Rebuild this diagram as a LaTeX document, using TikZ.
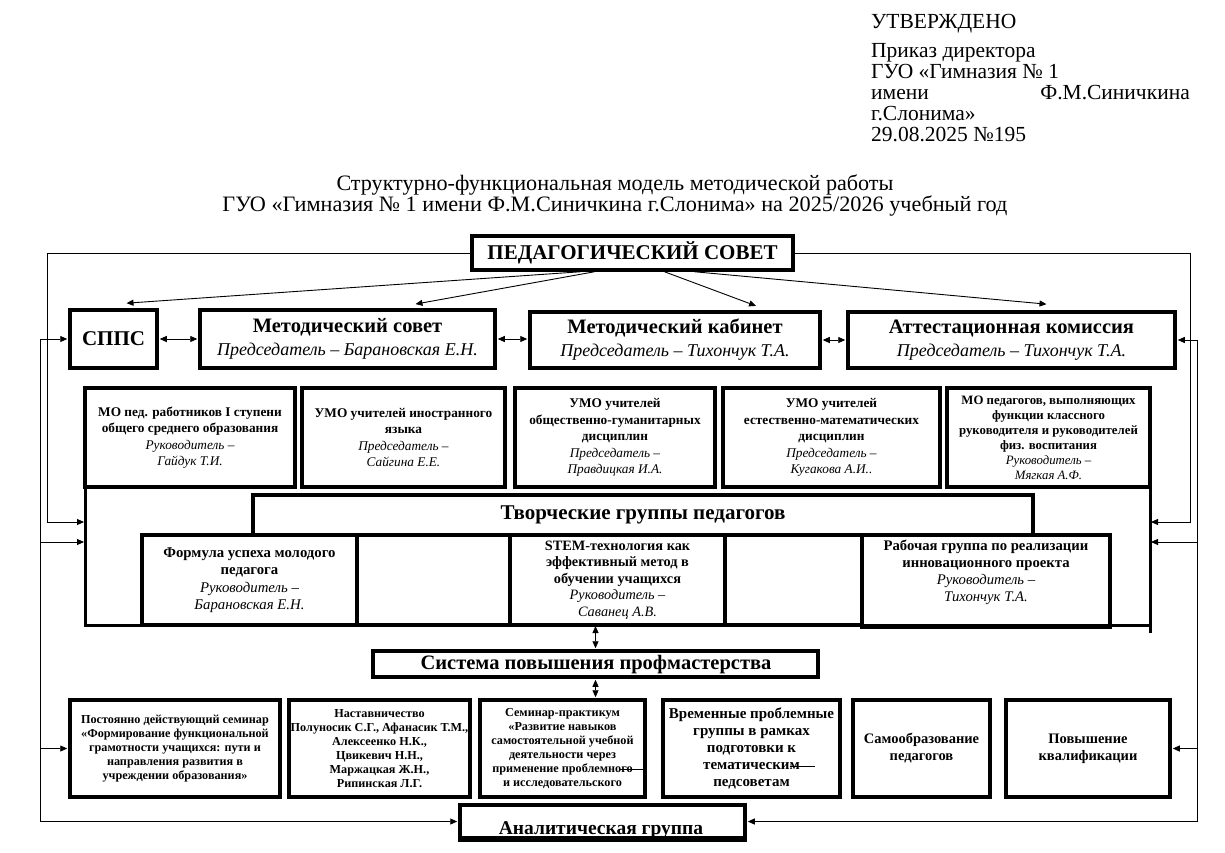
\documentclass[tikz,border=0pt]{standalone}
\usepackage{fontspec}
\setmainfont{Liberation Serif}
\usepackage{graphicx}
\usetikzlibrary{arrows.meta,calc}
\newcommand{\fsz}[2]{\fontsize{#1}{#2}\selectfont}
\newcommand{\itl}[1]{{\mdseries\itshape #1}}
% \bxnode[opts]{name}{x1}{y1}{x2}{y2}{text}
\newcommand{\bxnode}[7][]{\node[box,minimum width={(#5)-(#3)},minimum height={(#6)-(#4)},#1] (#2) at ({((#3)+(#5))/2},{((#4)+(#6))/2}) {#7};}
\begin{document}
\begin{tikzpicture}[x=1pt,y=-1pt,
  box/.style={draw,line width=3.5pt,inner sep=0pt,align=center},
  conn/.style={line width=0.9pt},
  arr/.style={conn,-{Triangle[length=7pt,width=6pt]},shorten >=1pt},
  darr/.style={conn,{Triangle[length=7pt,width=6pt]}-{Triangle[length=7pt,width=6pt]},shorten >=1pt,shorten <=1pt},
  frameln/.style={line width=3pt},
  hdr/.style={anchor=base west,inner sep=0pt,font=\fsz{21.5}{24}}]
\useasboundingbox (0,0) rectangle (1225,852);
\fill[white] (0,0) rectangle (1225,852);

% header
\node[hdr] (utv) at (871,28) {УТВЕРЖДЕНО};
\node[hdr] (h1) at (871,57) {Приказ директора};
\node[hdr] (h2) at (871,78) {ГУО «Гимназия № 1};
\node[hdr] (h3) at (871,99) {имени};
\node[hdr,anchor=base east] (h3b) at (1190,99) {Ф.М.Синичкина};
\node[hdr] (h4) at (871,120) {г.Слонима»};
\node[hdr] (h5) at (871,141) {29.08.2025 №195};

% title
\node[inner sep=0pt,font=\fsz{22}{24}] (t1) at (615,185) {\resizebox{557pt}{\height}{Структурно-функциональная модель методической работы}};
\node[inner sep=0pt,font=\fsz{22}{24}] (t2) at (615,206) {\resizebox{785pt}{\height}{ГУО «Гимназия № 1 имени Ф.М.Синичкина г.Слонима» на 2025/2026 учебный год}};

% pedagogical council
\bxnode[font=\bfseries\fsz{21}{22}]{ped}{472}{236}{793}{270}{ПЕДАГОГИЧЕСКИЙ СОВЕТ}

% row 2
\bxnode[font=\bfseries\fsz{21}{22}]{sppc}{70}{310}{157}{368}{СППС}
\bxnode[font=\bfseries\fsz{20.5}{23}]{ms}{200}{310}{495}{368}{Методический совет\\\itl{\fsz{18}{23}Председатель – Барановская Е.Н.}}
\bxnode[font=\bfseries\fsz{20.5}{23}]{mk}{530}{312}{820}{368}{Методический кабинет\\\itl{\fsz{18}{23}Председатель – Тихончук Т.А.}}
\bxnode[font=\bfseries\fsz{20.5}{23}]{att}{848}{312}{1175}{368}{Аттестационная комиссия\\\itl{\fsz{18}{23}Председатель – Тихончук Т.А.}}

% row 3
\bxnode[font=\bfseries\fsz{13.3}{16.5}]{mo1}{85}{388}{295}{487}{МО пед. работников I ступени\\общего среднего образования\\\itl{Руководитель –}\\\itl{Гайдук Т.И.}}
\bxnode[font=\bfseries\fsz{13.3}{16.5}]{mo2}{302}{388}{505}{487}{УМО учителей иностранного\\языка\\\itl{Председатель –}\\\itl{Сайгина Е.Е.}}
\bxnode[font=\bfseries\fsz{13.3}{16.5}]{mo3}{515}{388}{715}{487}{УМО учителей\\общественно-гуманитарных\\дисциплин\\\itl{Председатель –}\\\itl{Правдицкая И.А.}}
\bxnode[font=\bfseries\fsz{13.3}{16.5}]{mo4}{723}{388}{940}{487}{УМО учителей\\естественно-математических\\дисциплин\\\itl{Председатель –}\\\itl{Кугакова А.И..}}
\bxnode[font=\bfseries\fsz{12.8}{15}]{mo5}{947}{388}{1150}{487}{МО педагогов, выполняющих\\функции классного\\руководителя и руководителей\\физ. воспитания\\\itl{Руководитель –}\\\itl{Мягкая А.Ф.}}

% big frame
\coordinate (fw1) at (85,522);
\coordinate (fw2) at (85,542);
\coordinate (fe1) at (1150,522);
\coordinate (fe2) at (1150,542);
\draw[frameln] (85,487) -- (85,625) -- (1150,625);
\draw[frameln] (1150,487) -- (1150,633);

% creative groups
\bxnode[font=\bfseries\fsz{21}{22}]{tg}{253}{495}{1033}{535}{Творческие группы педагогов}
\bxnode[font=\bfseries\fsz{14.8}{17.5}]{form}{142}{535}{357}{625}{Формула успеха молодого\\педагога\\\itl{Руководитель –}\\\itl{Барановская Е.Н.}}
\bxnode{e1}{357}{535}{510}{625}{}
\bxnode[font=\bfseries\fsz{14.3}{16.5}]{stem}{510}{535}{725}{625}{STEM-технология как\\эффективный метод в\\обучении учащихся\\\itl{Руководитель –}\\\itl{Саванец А.В.}}
\bxnode{e2}{725}{535}{862}{625}{}
\bxnode{rab}{862}{535}{1110}{627}{}
\node[align=center,inner sep=0pt,font=\bfseries\fsz{14.7}{17}] (rabt) at (986,572) {Рабочая группа по реализации\\инновационного проекта\\\itl{Руководитель –}\\\itl{Тихончук Т.А.}};

% system
\bxnode{sys}{373}{651}{818}{677}{}
\node[anchor=base,inner sep=0pt,font=\bfseries\fsz{20.5}{22}] (syst) at (596,669) {\underline{Система повышения профмастерства}};

% row 5
\bxnode[font=\bfseries\fsz{12.2}{14}]{post}{70}{700}{280}{797}{Постоянно действующий семинар\\«Формирование функциональной\\грамотности учащихся: пути и\\направления развития в\\учреждении образования»}
\bxnode[font=\bfseries\fsz{12.2}{14}]{nast}{289}{700}{470}{797}{Наставничество\\Полуносик С.Г., Афанасик Т.М.,\\Алексеенко Н.К.,\\Цвикевич Н.Н.,\\Маржацкая Ж.Н.,\\Рипинская Л.Г.}
\bxnode[font=\bfseries\fsz{12.2}{14}]{sem}{480}{700}{645}{797}{Семинар-практикум\\«Развитие навыков\\самостоятельной учебной\\деятельности через\\применение проблемного\\и исследовательского}
\bxnode[font=\bfseries\fsz{15}{16.8}]{vrem}{663}{700}{840}{797}{Временные проблемные\\группы в рамках\\подготовки к\\тематическим\\педсоветам}
\bxnode[font=\bfseries\fsz{14.5}{17}]{samo}{853}{700}{990}{797}{Самообразование\\педагогов}
\bxnode[font=\bfseries\fsz{14.5}{17}]{pov}{1006}{700}{1170}{797}{Повышение\\квалификации}
\draw[conn] (620,769) -- (sem.east |- 0,769);
\draw[conn] (790,766) -- (815,766);

% analytic group
\bxnode{anal}{460}{805}{745}{838}{}
\node[anchor=base,inner sep=0pt,font=\bfseries\fsz{19.5}{22}] (analt) at (601,834) {Аналитическая группа};
\draw[line width=3.5pt] (anal.south west) -- (anal.south east);

% connectors from council
\draw[arr] ($(ped.south)+(-52,0)$) -- ($(sppc.north)+(12,-5)$);
\draw[arr] ($(ped.south)+(-38,0)$) -- ($(ms.north)+(67,-4)$);
\draw[arr] ($(ped.south)+(32,0)$) -- ($(mk.north)+(82,-4)$);
\draw[arr] ($(ped.south)+(62,0)$) -- ($(att.north)+(36,-6)$);

% row 2 links
\draw[darr] (sppc.east) -- (ms.west);
\draw[darr] (ms.east) -- (mk.west |- ms.east);
\draw[darr] (mk.east) -- (att.west);

% outer loops
\coordinate (LA) at (47,0);
\coordinate (LB) at (40,0);
\coordinate (RA) at (1190,0);
\coordinate (RB) at (1197,0);
\draw[arr] (ped.west) -| (LA |- fw1) -- (fw1);
\draw[arr] (ped.east) -| (RA |- fe1) -- (fe1);
\draw[conn] (LB |- sppc.west) -- (LB |- anal.west);
\draw[arr] (LB |- sppc.west) -- (sppc.west);
\draw[arr] (LB |- fw2) -- (fw2);
\draw[arr] (LB |- post.west) -- (post.west);
\draw[arr] (LB |- anal.west) -- (anal.west);
\draw[conn] (RB |- att.east) -- (RB |- anal.east);
\draw[arr] (RB |- att.east) -- (att.east);
\draw[arr] (RB |- fe2) -- (fe2);
\draw[arr] (RB |- pov.east) -- (pov.east);
\draw[arr] (RB |- anal.east) -- (anal.east);

% system links
\draw[darr] (sys.north) -- (sys.north |- 0,625);
\draw[darr] (sys.south) -- (sys.south |- sem.north);
\end{tikzpicture}
\end{document}
